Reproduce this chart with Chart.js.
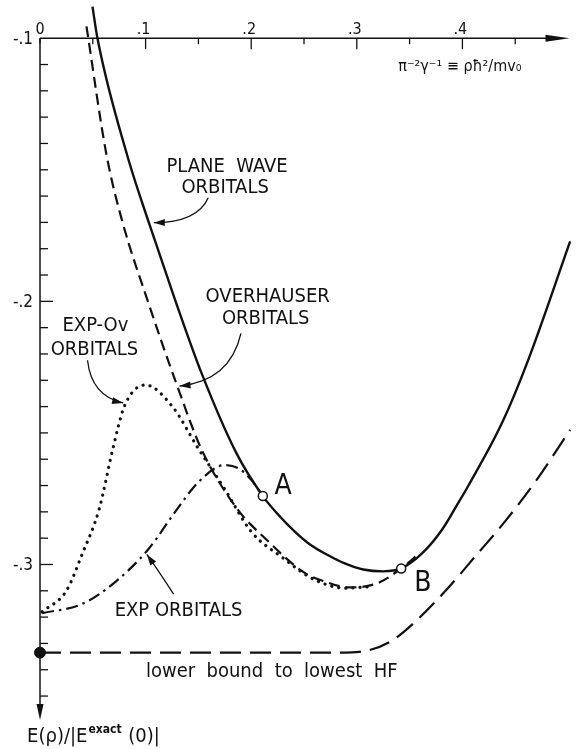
<!DOCTYPE html>
<html><head><meta charset="utf-8">
<script src="https://cdn.jsdelivr.net/npm/chart.js@4"></script>
<style>html,body{margin:0;padding:0;background:#fff;}canvas{display:block;}</style>
</head><body>
<canvas id="c" width="576" height="749"></canvas>
<script>
// ---- data (rho = π^-2 γ^-1, E = E(ρ)/|E_exact(0)|) ----
const planeWaveRho = [0.0497, 0.0544, 0.0825, 0.103, 0.128, 0.153, 0.1856, 0.211, 0.225, 0.241, 0.256, 0.272, 0.288, 0.306, 0.325, 0.342, 0.363, 0.381, 0.394, 0.406, 0.438, 0.462, 0.502];
const planeWaveE   = [-0.088, -0.100, -0.1444, -0.170, -0.1995, -0.2273, -0.2574, -0.274, -0.2808, -0.2874, -0.2925, -0.2963, -0.2995, -0.3019, -0.3026, -0.3015, -0.2953, -0.2866, -0.2780, -0.2698, -0.2458, -0.2226, -0.1772];

const overhauserRho = [0.044, 0.063, 0.078, 0.103, 0.129, 0.153, 0.187, 0.213, 0.250, 0.270, 0.293, 0.319, 0.342, 0.360];
const overhauserE   = [-0.0955, -0.1444, -0.1697, -0.201, -0.2311, -0.2563, -0.279, -0.290, -0.3030, -0.3065, -0.3087, -0.3072, -0.3015, -0.2955];

const expOvRho = [0.002, 0.025, 0.040, 0.056, 0.069, 0.080, 0.100, 0.125, 0.150, 0.175, 0.200, 0.230, 0.260, 0.290, 0.310];
const expOvE   = [-0.3180, -0.310, -0.296, -0.279, -0.256, -0.2398, -0.2318, -0.2398, -0.256, -0.2714, -0.2875, -0.2975, -0.3058, -0.3090, -0.3085];

const expRho = [0.002, 0.040, 0.072, 0.103, 0.128, 0.150, 0.175, 0.188, 0.200, 0.211];
const expE   = [-0.3185, -0.315, -0.3064, -0.294, -0.280, -0.2687, -0.2622, -0.2635, -0.2678, -0.274];

const lowerBoundRho = [0.000, 0.100, 0.200, 0.281, 0.309, 0.333, 0.356, 0.384, 0.412, 0.440, 0.470, 0.502];
const lowerBoundE   = [-0.3335, -0.3335, -0.3335, -0.3335, -0.3328, -0.329, -0.3215, -0.310, -0.297, -0.2838, -0.268, -0.2488];

const markerRho = [0.211, 0.342];   // A, B (open circles)
const markerE   = [-0.274, -0.3015];
const markerLabels = ['A', 'B'];
const hfRho = [0.0];                // filled dot: lower bound at ρ=0
const hfE   = [-0.3335];

const xTickValues = [0, 0.1, 0.2, 0.3, 0.4];
const xTickLabels = ['0', '.1', '.2', '.3', '.4'];
const yTickValues = [-0.1, -0.2, -0.3];
const yTickLabels = ['-.1', '-.2', '-.3'];

const curveLabels = {
  planeWave: ['PLANE  WAVE', 'ORBITALS'],
  overhauser: ['OVERHAUSER', 'ORBITALS'],
  expOv: ['EXP-Ov', 'ORBITALS'],
  exp: ['EXP ORBITALS'],
  lowerBound: 'lower  bound  to  lowest  HF'
};
const xAxisTitle = 'π⁻²γ⁻¹ ≡ ρħ²/mv₀';
const yAxisTitle = ['E(ρ)/|E', 'exact', ' (0)|'];

// ---- helpers ----
const pts = (xs, ys) => xs.map((x, i) => ({x: x, y: ys[i]}));
const FONT = '"Liberation Sans Narrow", "DejaVu Sans Condensed", "Liberation Sans", sans-serif';
const INK = '#111';

const lineDs = (label, xs, ys, extra) => Object.assign({
  label: label, data: pts(xs, ys), borderColor: INK, borderWidth: 2.2,
  pointRadius: 0, fill: false, cubicInterpolationMode: 'monotone', clip: false
}, extra);

const axesPlugin = {
  id: 'axes',
  beforeDatasetsDraw(chart) {
    const ctx = chart.ctx, xs = chart.scales.x, ys = chart.scales.y;
    const X = v => xs.getPixelForValue(v), Y = v => ys.getPixelForValue(v);
    const x0 = X(0), yAx = Y(-0.1);
    const xEnd = chart.chartArea.right, yEnd = chart.chartArea.bottom;
    ctx.save();
    ctx.strokeStyle = INK; ctx.fillStyle = INK; ctx.lineWidth = 1.5;
    ctx.beginPath(); ctx.moveTo(x0, yAx); ctx.lineTo(xEnd - 14, yAx); ctx.stroke();
    ctx.beginPath(); ctx.moveTo(x0, yAx); ctx.lineTo(x0, yEnd - 12); ctx.stroke();
    ctx.beginPath(); ctx.moveTo(xEnd, yAx); ctx.lineTo(xEnd - 24, yAx - 3.5); ctx.lineTo(xEnd - 24, yAx + 3.5); ctx.closePath(); ctx.fill();
    ctx.beginPath(); ctx.moveTo(x0, yEnd); ctx.lineTo(x0 - 3.5, yEnd - 16); ctx.lineTo(x0 + 3.5, yEnd - 16); ctx.closePath(); ctx.fill();
    ctx.lineWidth = 1.3;
    for (let k = 0; k <= 9; k++) {
      const v = k * 0.05, px = X(v), len = (k % 2 === 0) ? (k === 0 ? 5 : 11) : 6;
      ctx.beginPath(); ctx.moveTo(px, yAx); ctx.lineTo(px, yAx + len); ctx.stroke();
    }
    for (let k = 11; k <= 35; k++) {
      const v = -k / 100, py = Y(v), len = (k % 10 === 0) ? 13 : 8;
      ctx.beginPath(); ctx.moveTo(x0, py); ctx.lineTo(x0 + len, py); ctx.stroke();
    }
    ctx.font = '16px ' + FONT; ctx.textAlign = 'center'; ctx.textBaseline = 'alphabetic';
    xTickValues.forEach((v, i) => ctx.fillText(xTickLabels[i], X(v) - (i ? 2 : 0), yAx - 4));
    ctx.font = '17px ' + FONT; ctx.textAlign = 'right'; ctx.textBaseline = 'middle';
    yTickValues.forEach((v, i) => ctx.fillText(yTickLabels[i], x0 - 7, Y(v) + 1));
    ctx.restore();
  },
  afterDatasetsDraw(chart) {
    const ctx = chart.ctx, xs = chart.scales.x, ys = chart.scales.y;
    const P = (r, e) => [xs.getPixelForValue(r), ys.getPixelForValue(e)];
    ctx.save();
    ctx.fillStyle = INK; ctx.strokeStyle = INK;
    const text = (s, r, e, align, size) => {
      const p = P(r, e);
      ctx.font = size + 'px ' + FONT; ctx.textAlign = align; ctx.textBaseline = 'alphabetic';
      ctx.fillText(s, p[0], p[1]);
    };
    text(curveLabels.planeWave[0], 0.1771, -0.1508, 'center', 20);
    text(curveLabels.planeWave[1], 0.1753, -0.1588, 'center', 20);
    text(curveLabels.overhauser[0], 0.2156, -0.2002, 'center', 20);
    text(curveLabels.overhauser[1], 0.2137, -0.2085, 'center', 20);
    text(curveLabels.expOv[0], 0.0525, -0.2111, 'center', 20);
    text(curveLabels.expOv[1], 0.0515, -0.2205, 'center', 20);
    text(curveLabels.exp[0], 0.1312, -0.3196, 'center', 20);
    text(curveLabels.lowerBound, 0.1003, -0.3429, 'left', 20);
    text(markerLabels[0], 0.2221, -0.2733, 'left', 28);
    text(markerLabels[1], 0.3543, -0.3102, 'left', 28);
    text(xAxisTitle, 0.3393, -0.1125, 'left', 16);
    let p = P(-0.0122, -0.3674);
    ctx.font = '20px ' + FONT; ctx.textAlign = 'left';
    ctx.fillText(yAxisTitle[0], p[0], p[1]);
    let w = ctx.measureText(yAxisTitle[0]).width;
    ctx.font = 'bold 12px ' + FONT;
    ctx.fillText(yAxisTitle[1], p[0] + w + 1, p[1] - 9);
    let w2 = ctx.measureText(yAxisTitle[1]).width;
    ctx.font = '20px ' + FONT;
    ctx.fillText(yAxisTitle[2], p[0] + w + w2 + 2, p[1]);
    const arrow = (a, c, b) => {
      const A = P(a[0], a[1]), C = P(c[0], c[1]), B = P(b[0], b[1]);
      ctx.lineWidth = 1.3;
      ctx.beginPath(); ctx.moveTo(A[0], A[1]); ctx.quadraticCurveTo(C[0], C[1], B[0], B[1]); ctx.stroke();
      const ang = Math.atan2(B[1] - C[1], B[0] - C[0]);
      ctx.beginPath(); ctx.moveTo(B[0], B[1]);
      ctx.lineTo(B[0] - 11 * Math.cos(ang) + 3.5 * Math.sin(ang), B[1] - 11 * Math.sin(ang) - 3.5 * Math.cos(ang));
      ctx.lineTo(B[0] - 11 * Math.cos(ang) - 3.5 * Math.sin(ang), B[1] - 11 * Math.sin(ang) + 3.5 * Math.cos(ang));
      ctx.closePath(); ctx.fill();
    };
    arrow([0.1593, -0.1606], [0.1490, -0.1700], [0.1078, -0.1701]);
    arrow([0.1903, -0.2122], [0.1799, -0.2303], [0.1321, -0.2322]);
    arrow([0.0450, -0.2224], [0.0487, -0.2360], [0.0787, -0.2386]);
    arrow([0.1265, -0.3113], [0.1125, -0.3026], [0.1012, -0.2962]);
    ctx.restore();
  }
};

new Chart(document.getElementById('c'), {
  type: 'line',
  data: {
    datasets: [
      { type: 'scatter', label: 'A, B', data: pts(markerRho, markerE), pointRadius: 4.5, pointBackgroundColor: '#fff', pointBorderColor: INK, pointBorderWidth: 1.5, showLine: false, clip: false },
      { type: 'scatter', label: 'HF at 0', data: pts(hfRho, hfE), pointRadius: 5.5, pointBackgroundColor: INK, pointBorderColor: INK, pointBorderWidth: 1, showLine: false, clip: false },
      lineDs('Plane wave orbitals', planeWaveRho, planeWaveE, { borderWidth: 2.4 }),
      lineDs('Overhauser orbitals', overhauserRho, overhauserE, { borderDash: [11, 6] }),
      lineDs('Exp-Ov orbitals', expOvRho, expOvE, { borderDash: [0.1, 7], borderCapStyle: 'round', borderWidth: 3.2 }),
      lineDs('Exp orbitals', expRho, expE, { borderDash: [12, 5, 2.5, 5], borderWidth: 2.2 }),
      lineDs('Lower bound to lowest HF', lowerBoundRho, lowerBoundE, { borderDash: [21, 9], borderWidth: 2.2 })
    ]
  },
  options: {
    responsive: false, devicePixelRatio: 1, animation: false,
    layout: { padding: { left: 40, right: 1, top: 0, bottom: 29 } },
    scales: {
      x: { type: 'linear', min: 0, max: 0.5014, display: false },
      y: { type: 'linear', min: -0.3591, max: -0.08795, display: false }
    },
    plugins: { legend: { display: false }, tooltip: { enabled: false }, title: { display: false } },
    events: []
  },
  plugins: [axesPlugin]
});
</script>
</body></html>
